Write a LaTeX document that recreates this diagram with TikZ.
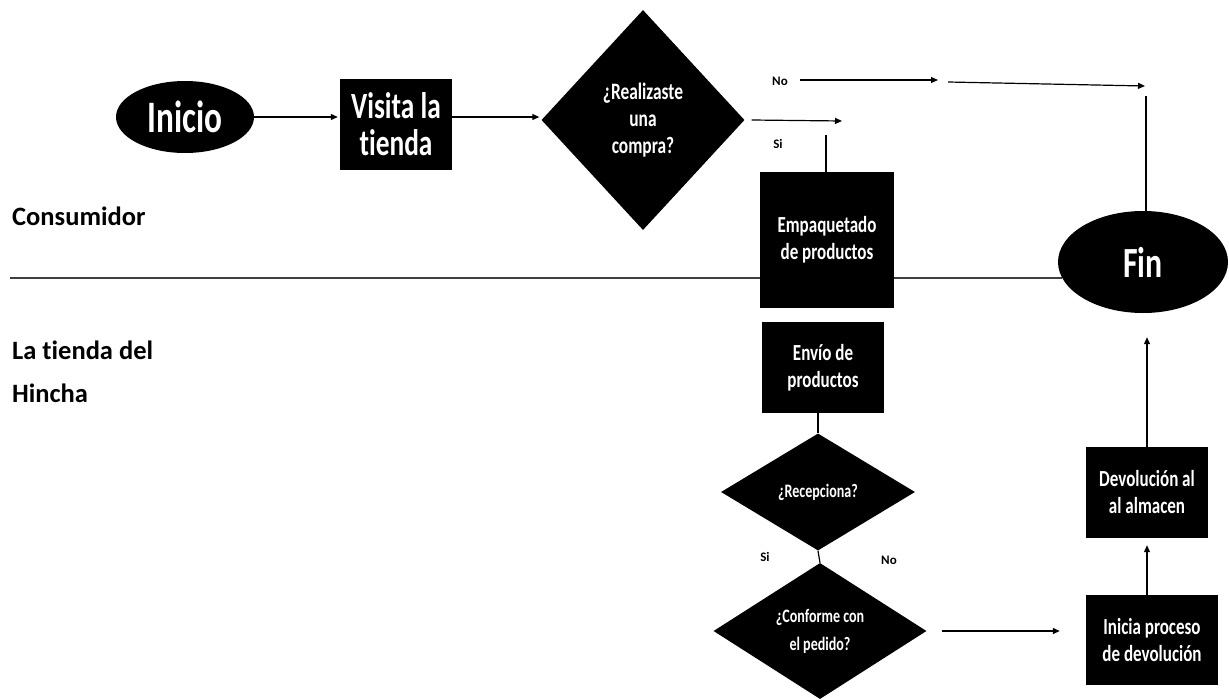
\documentclass[tikz,border=0pt]{standalone}
\usepackage{fontspec}
\setmainfont{Carlito}[Ligatures=CommonOff]
\newfontfamily\cond{Carlito}[FakeStretch=0.74,Ligatures=CommonOff]
\usetikzlibrary{shapes.geometric,arrows.meta}
\begin{document}
\begin{tikzpicture}[x=1pt,y=-1pt,
  blk/.style={fill=black,draw=none,text=white,inner sep=0pt,align=center,font=\cond\bfseries\fontsize{23}{27}\selectfont},
  boxnode/.style={blk,rectangle},
  ovalnode/.style={blk,ellipse},
  decnode/.style={blk,diamond},
  arr/.style={line width=1.2pt,-{Triangle[length=7pt,width=6pt]}},
  ln/.style={line width=1.2pt},
  lab/.style={font=\bfseries\fontsize{13}{15}\selectfont,inner sep=0pt},
  lane/.style={font=\bfseries\fontsize{26.5}{43}\selectfont,inner sep=0pt,anchor=base west,align=left}]
\useasboundingbox (0,0) rectangle (1229,699);
\fill[white] (0,0) rectangle (1229,699);
% lane separator
\coordinate (sepl) at (10,278);
\coordinate (sepr) at (1062,278);
\draw[line width=1.3pt,black!75] (sepl) -- (sepr);
% lane labels
\node[lane] (consum) at (12,225) {Consumidor};
\node[lane] (tienda) at (12,402) {La tienda del\\Hincha};
% nodes
\node[ovalnode,minimum width=138,minimum height=72,font=\cond\bfseries\fontsize{45}{50}\selectfont] (inicio) at (185,117) {Inicio};
\node[boxnode,minimum width=112,minimum height=91,font=\cond\bfseries\fontsize{37}{37}\selectfont] (visita) at (396,124.5) {Visita la\\tienda};
\node[decnode,minimum width=203,minimum height=220,font=\cond\bfseries\fontsize{23.5}{27}\selectfont] (compra) at (643,120) {¿Realizaste\\una\\compra?};
\node[boxnode,minimum width=134,minimum height=136] (empaq) at (827,240) {Empaquetado\\de productos};
\node[boxnode,minimum width=122,minimum height=91] (envio) at (823,367.5) {Envío de\\productos};
\node[decnode,minimum width=194,minimum height=117,font=\cond\bfseries\fontsize{19}{22}\selectfont] (recep) at (818,492) {¿Recepciona?};
\node[decnode,minimum width=213,minimum height=136,font=\cond\bfseries\fontsize{19}{28}\selectfont] (conf) at (820,631) {¿Conforme con\\el pedido?};
\node[boxnode,minimum width=132,minimum height=90] (inicia) at (1152,640) {Inicia proceso\\de devolución};
\node[boxnode,minimum width=122,minimum height=91] (devol) at (1147,492.5) {Devolución al\\al almacen};
\node[ovalnode,minimum width=170,minimum height=102,font=\cond\bfseries\fontsize{43}{48}\selectfont] (fin) at (1143,262) {Fin};
% labels
\node[lab] (nolab) at (780,81) {No};
\node[lab] (silab) at (778,144) {Si};
\node[lab] (silab2) at (765,557) {Si};
\node[lab] (nolab2) at (889,560) {No};
% connectors
\draw[arr] (inicio.east) -- ([xshift=-2]visita.west |- inicio.east);
\draw[arr] (visita.east |- inicio.east) -- ([xshift=-2]compra.west |- inicio.east);
\coordinate (siend) at (842,121);
\draw[arr] ([xshift=7]compra.east) -- (siend);
\coordinate (sidrop) at (826,135);
\draw[ln] (sidrop) -- (sidrop |- empaq.north);
\coordinate (nostart) at (800,80);
\coordinate (noend) at (938,80);
\draw[arr] (nostart) -- (noend);
\coordinate (no2start) at (948,82);
\coordinate (no2end) at (1145,86);
\draw[arr] (no2start) -- (no2end);
\coordinate (findrop) at (1146,96);
\draw[ln] (findrop) -- (findrop |- fin.north);
\draw[ln] (recep.north |- envio.south) -- (recep.north);
\draw[ln] (recep.south) -- (conf.north);
\draw[arr] ([xshift=15]conf.east) -- ([xshift=-26]inicia.west |- conf.east);
\draw[arr] (devol.south |- inicia.north) -- ([yshift=-7]devol.south);
\draw[arr] (devol.north) -- ([yshift=-24]fin.south -| devol.north);
\end{tikzpicture}
\end{document}
